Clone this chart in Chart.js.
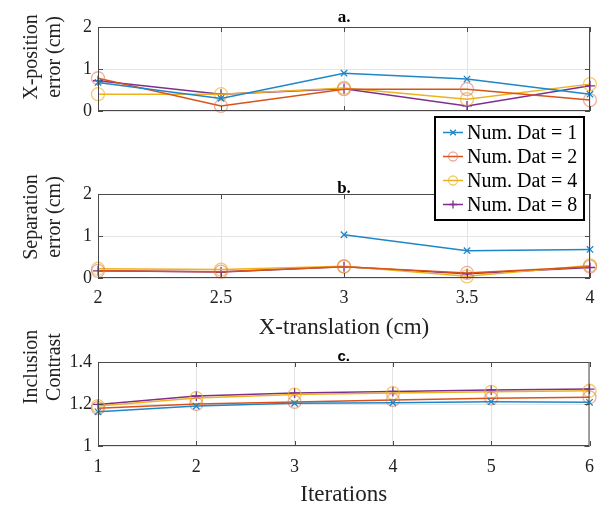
<!DOCTYPE html>
<html><head><meta charset="utf-8">
<script src="https://cdn.jsdelivr.net/npm/chart.js@4.4.1/dist/chart.umd.min.js"></script>
<style>
html,body{margin:0;padding:0;background:#fff;width:604px;height:513px;overflow:hidden;}
.wrap{position:absolute;left:0;top:0;width:604px;height:513px;}
canvas{display:block}
</style></head><body>
<div class="wrap"><canvas id="ca" width="604" height="513"></canvas></div>
<div class="wrap"><canvas id="cb" width="604" height="513"></canvas></div>
<div class="wrap"><canvas id="cc" width="604" height="513"></canvas></div>
<script>
// ---------- data ----------
const seriesNames = ['Num. Dat = 1', 'Num. Dat = 2', 'Num. Dat = 4', 'Num. Dat = 8'];
const translationX = [2, 2.5, 3, 3.5, 4];
const iterationsX = [1, 2, 3, 4, 5, 6];

// a. X-position error (cm)
const posErrDat1 = [0.68, 0.30, 0.90, 0.76, 0.40];
const posErrDat2 = [0.78, 0.12, 0.52, 0.52, 0.26];
const posErrDat4 = [0.40, 0.40, 0.55, 0.28, 0.64];
const posErrDat8 = [0.72, 0.40, 0.53, 0.12, 0.60];

// b. Separation error (cm)
const sepErrDat1 = [null, null, 1.03, 0.65, 0.68];
const sepErrDat2 = [0.17, 0.15, 0.27, 0.12, 0.27];
const sepErrDat4 = [0.22, 0.20, 0.28, 0.04, 0.30];
const sepErrDat8 = [0.17, 0.14, 0.27, 0.10, 0.25];

// c. Inclusion contrast
const contrastDat1 = [1.163, 1.190, 1.203, 1.206, 1.211, 1.208];
const contrastDat2 = [1.180, 1.200, 1.210, 1.219, 1.227, 1.232];
const contrastDat4 = [1.190, 1.228, 1.245, 1.252, 1.258, 1.263];
const contrastDat8 = [1.198, 1.238, 1.252, 1.260, 1.267, 1.271];

// tick values
const xTicksTranslation = [2, 2.5, 3, 3.5, 4];
const xTicksIterations = [1, 2, 3, 4, 5, 6];
const yTicksError = [0, 1, 2];
const yTicksContrast = [1, 1.2, 1.4];

// ---------- styles ----------
const seriesStyles = [
  {color: '#1f86c8', pointStyle: 'crossRot', radius: 4.5, pointColor: '#1f86c8'},
  {color: '#D95319', pointStyle: 'circle', radius: 6.5, pointColor: 'rgba(222,110,80,0.55)'},
  {color: '#EDB120', pointStyle: 'circle', radius: 6.5, pointColor: 'rgba(237,177,32,0.65)'},
  {color: '#7E2F8E', pointStyle: 'cross', radius: 5, pointColor: '#7E2F8E'}
];
const SERIF = "'Liberation Serif', 'Times New Roman', serif";
const CANVAS_H = 513;

function makeDatasets(xs, ys) {
  return ys.map((arr, i) => ({
    label: seriesNames[i],
    data: xs.map((x, k) => ({x: x, y: arr[k]})),
    borderColor: seriesStyles[i].color,
    borderWidth: 1.5,
    pointStyle: seriesStyles[i].pointStyle,
    pointRadius: seriesStyles[i].radius,
    pointBorderColor: seriesStyles[i].pointColor,
    pointBackgroundColor: 'rgba(0,0,0,0)',
    pointBorderWidth: 1.3,
    spanGaps: false,
    clip: false,
    tension: 0
  }));
}

const framePlugin = {
  id: 'frame',
  afterDraw(chart, args, o) {
    const {ctx, chartArea: a, scales: {x, y}} = chart;
    ctx.save();
    ctx.strokeStyle = '#4a4a4a';
    ctx.lineWidth = 1;
    ctx.strokeRect(a.left + 0.5, a.top + 0.5, a.right - a.left - 1, a.bottom - a.top - 1);
    const L = 5;
    ctx.beginPath();
    x.ticks.forEach(t => {
      const px = Math.round(x.getPixelForValue(t.value)) + 0.5;
      ctx.moveTo(px, a.bottom); ctx.lineTo(px, a.bottom - L);
      ctx.moveTo(px, a.top); ctx.lineTo(px, a.top + L);
    });
    y.ticks.forEach(t => {
      const py = Math.round(y.getPixelForValue(t.value)) + 0.5;
      ctx.moveTo(a.left, py); ctx.lineTo(a.left + L, py);
      ctx.moveTo(a.right, py); ctx.lineTo(a.right - L, py);
    });
    ctx.stroke();
    // subplot title
    ctx.fillStyle = '#000';
    ctx.font = o.titleFont;
    ctx.textAlign = 'center';
    ctx.textBaseline = 'alphabetic';
    ctx.fillText(o.title, (a.left + a.right) / 2, a.top - o.titleGap);
    // y-axis label (two lines, rotated)
    ctx.fillStyle = '#222';
    ctx.font = "20px " + SERIF;
    ctx.textBaseline = 'middle';
    o.ylabel.forEach((line, i) => {
      ctx.save();
      ctx.translate(32 + i * 23, o.ylabelY);
      ctx.rotate(-Math.PI / 2);
      ctx.fillText(line, 0, 0);
      ctx.restore();
    });
    ctx.restore();
  }
};

const legendPlugin = {
  id: 'customLegend',
  afterDraw(chart, args, o) {
    if (!o.show) return;
    const ctx = chart.ctx;
    ctx.save();
    const L = 435, T = 117, R = 584, B = 220;
    ctx.fillStyle = '#fff';
    ctx.fillRect(L, T, R - L, B - T);
    ctx.strokeStyle = '#000';
    ctx.lineWidth = 2;
    ctx.strokeRect(L, T, R - L, B - T);
    ctx.font = "20px " + SERIF;
    ctx.textBaseline = 'middle';
    ctx.textAlign = 'left';
    seriesNames.forEach((name, i) => {
      const cy = T + 15.5 + i * 24;
      const st = seriesStyles[i];
      ctx.strokeStyle = st.color;
      ctx.lineWidth = 1.5;
      ctx.beginPath(); ctx.moveTo(443, cy); ctx.lineTo(463, cy); ctx.stroke();
      ctx.strokeStyle = st.pointColor;
      ctx.fillStyle = 'rgba(0,0,0,0)';
      ctx.lineWidth = 1.3;
      Chart.helpers.drawPoint(ctx, {pointStyle: st.pointStyle, radius: st.pointStyle === 'circle' ? 4.5 : 4, rotation: 0, borderWidth: 1.3}, 453, cy);
      ctx.fillStyle = '#000';
      ctx.fillText(name, 467, cy + 1);
    });
    ctx.restore();
  }
};

function fixedTicks(values) {
  return function(scale) { scale.ticks = values.map(v => ({value: v})); };
}

function buildChart(id, cfg) {
  const xRegion = cfg.xRegion;
  return new Chart(document.getElementById(id), {
    type: 'line',
    data: {datasets: makeDatasets(cfg.xs, cfg.ys)},
    plugins: [framePlugin, legendPlugin],
    options: {
      responsive: false,
      animation: false,
      events: [],
      layout: {padding: {top: cfg.plotTop, right: 604 - 590, left: 0, bottom: CANVAS_H - cfg.plotBottom - xRegion}},
      plugins: {
        legend: {display: false},
        title: {display: false},
        tooltip: {enabled: false},
        frame: {title: cfg.title, titleFont: cfg.titleFont, titleGap: cfg.titleGap, ylabel: cfg.ylabel, ylabelY: cfg.ylabelY},
        customLegend: {show: !!cfg.legend}
      },
      scales: {
        x: {
          type: 'linear',
          min: cfg.xs[0], max: cfg.xs[cfg.xs.length - 1],
          afterBuildTicks: fixedTicks(cfg.xTicks),
          afterFit(s) { s.height = xRegion; },
          grid: {color: '#e4e4e4', drawTicks: false, lineWidth: 1},
          border: {display: false},
          ticks: {
            display: cfg.showXTicks, autoSkip: false, maxRotation: 0, padding: cfg.xTickPad || 0,
            color: '#222', font: {family: SERIF, size: 18},
            callback: v => String(v)
          },
          title: {
            display: !!cfg.xTitle, text: cfg.xTitle || '', color: '#222',
            font: {family: SERIF, size: 23, lineHeight: 1.0},
            padding: {top: 0, bottom: cfg.xTitlePad || 0}
          }
        },
        y: {
          type: 'linear',
          min: cfg.yTicks[0], max: cfg.yTicks[cfg.yTicks.length - 1],
          afterBuildTicks: fixedTicks(cfg.yTicks),
          afterFit(s) { s.width = 98; },
          grid: {color: '#e4e4e4', drawTicks: false, lineWidth: 1},
          border: {display: false},
          ticks: {
            padding: 6, color: '#222', font: {family: SERIF, size: 18},
            callback: v => String(v)
          }
        }
      }
    }
  });
}

buildChart('ca', {
  plotTop: 27, plotBottom: 111, xRegion: 19,
  xs: translationX, ys: [posErrDat1, posErrDat2, posErrDat4, posErrDat8],
  xTicks: xTicksTranslation, yTicks: yTicksError, showXTicks: false,
  title: 'a.', titleFont: "bold 17px " + SERIF, titleGap: 5,
  ylabel: ['X-position', 'error (cm)'], ylabelY: 57
});
buildChart('cb', {
  plotTop: 194, plotBottom: 278, xRegion: 62,
  xs: translationX, ys: [sepErrDat1, sepErrDat2, sepErrDat4, sepErrDat8],
  xTicks: xTicksTranslation, yTicks: yTicksError, showXTicks: true, xTickPad: 9,
  xTitle: 'X-translation (cm)', xTitlePad: 1,
  title: 'b.', titleFont: "bold 17px " + SERIF, titleGap: 1,
  ylabel: ['Separation', 'error (cm)'], ylabelY: 217,
  legend: true
});
buildChart('cc', {
  plotTop: 362, plotBottom: 446, xRegion: 67,
  xs: iterationsX, ys: [contrastDat1, contrastDat2, contrastDat4, contrastDat8],
  xTicks: xTicksIterations, yTicks: yTicksContrast, showXTicks: true, xTickPad: 10,
  xTitle: 'Iterations', xTitlePad: 7,
  title: 'c.', titleFont: "bold 15px 'Liberation Sans', Arial, sans-serif", titleGap: 1,
  ylabel: ['Inclusion', 'Contrast'], ylabelY: 367
});
</script>
</body></html>
